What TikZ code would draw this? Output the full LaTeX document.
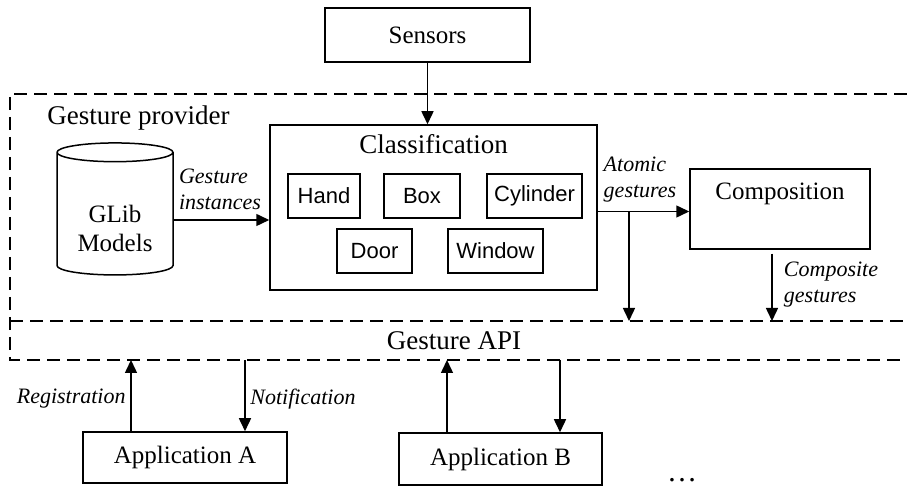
\documentclass[tikz,border=0pt]{standalone}
\usepackage{fontspec}
\setmainfont{Liberation Serif}
\setsansfont{Liberation Sans}
\usetikzlibrary{shapes.geometric,arrows.meta,calc}

\tikzset{
  block/.style ={rectangle, draw=black, line width=0.75pt, inner sep=0pt,
    font=\fontsize{12.5}{15}\selectfont},
  gclass/.style={rectangle, draw=black, line width=0.75pt, minimum height=22pt,
    inner sep=0pt, font=\sffamily\fontsize{11}{13}\selectfont},
  db/.style={cylinder, shape border rotate=90, aspect=0.25, draw=black,
    line width=0.75pt, minimum width=58pt, minimum height=66pt, inner sep=0pt,
    align=center, text height=38pt, font=\fontsize{12.5}{14.5}\selectfont},
  title/.style={inner sep=0pt, font=\fontsize{13.5}{16}\selectfont},
  flowlbl/.style={inner sep=0pt, align=left, font=\itshape\fontsize{11}{13}\selectfont},
  frame/.style={line width=1.25pt, dash pattern=on 6.5pt off 3.5pt},
  conn/.style={line width=0.75pt, -{Triangle[length=6.5pt,width=6pt]}},
}

\begin{document}
\begin{tikzpicture}[x=0.5pt, y=-0.5pt]
  \useasboundingbox (0,0) rectangle (907,486);
  % frames
  \draw[frame] (907,94) -- (10,94) -- (10,360) -- (907,360);
  \draw[frame] (10,321) -- (907,321);
  \coordinate (apitop) at (10,321);
  \coordinate (apibot) at (10,360);
  \node[title, anchor=west] (prov) at (47,118) {Gesture provider};
  \node[title] (api) at (454,341) {Gesture API};

  \node[block, minimum width=102.5pt, minimum height=27pt] (sensors) at (427.5,35) {Sensors};
  \node[db] (glib) at (115,214) {GLib\\Models};
  \node[block, minimum width=163.5pt, minimum height=82.5pt] (classif) at (433.5,207.5) {};
  \node[title, anchor=north] (ctitle) at ([yshift=-5pt]classif.north) {Classification};
  \node[gclass, minimum width=36pt] (hand) at (324,196) {Hand};
  \node[gclass, minimum width=38pt] (box) at (422,196) {Box};
  \node[gclass, minimum width=47.5pt] (cyl) at (534.5,196) {Cylinder};
  \node[gclass, minimum width=37.5pt] (door) at (374.5,251) {Door};
  \node[gclass, minimum width=47.5pt] (window) at (495.5,251) {Window};
  \node[block, minimum width=90pt, minimum height=40pt, text depth=18pt] (compo) at (780,209) {Composition};

  \node[block, minimum width=102pt, minimum height=25.5pt] (appa) at (185,457.5) {Application A};
  \node[block, minimum width=101.5pt, minimum height=26pt] (appb) at (500.5,459) {Application B};
  \node[inner sep=0pt, anchor=base, font=\fontsize{15}{15}\selectfont] (more) at (682,482) {\dots};

  \draw[conn] (sensors.south) -- (sensors.south |- classif.north);
  \draw[conn] ([yshift=-3pt]glib.east) -- ([yshift=-3pt]glib.east -| classif.west);
  \draw[conn] ([yshift=-2pt]classif.east) -- ([yshift=-2pt]classif.east -| compo.west);
  \coordinate (fork) at (629,212);
  \draw[conn] (fork) -- (fork |- apitop);
  \draw[conn] ([xshift=-4pt,yshift=-2pt]compo.south) -- ([xshift=-4pt]compo.south |- apitop);
  \draw[conn] ([xshift=-27pt]appa.north) -- ([xshift=-27pt]appa.north |- apibot);
  \draw[conn] ([xshift=30pt]appa.north |- apibot) -- ([xshift=30pt]appa.north);
  \draw[conn] ([xshift=-26.75pt]appb.north) -- ([xshift=-26.75pt]appb.north |- apibot);
  \draw[conn] ([xshift=29.75pt]appb.north |- apibot) -- ([xshift=29.75pt]appb.north);

  \node[flowlbl] (inst) at (220,189) {Gesture\\instances};
  \node[flowlbl] (atom) at (640,180) {Atomic\\gestures};
  \node[flowlbl] (comp) at (831,285) {Composite\\gestures};
  \node[flowlbl, anchor=east] (reg) at (126,399) {Registration};
  \node[flowlbl, anchor=west] (notif) at (250,399) {Notification};
\end{tikzpicture}
\end{document}
